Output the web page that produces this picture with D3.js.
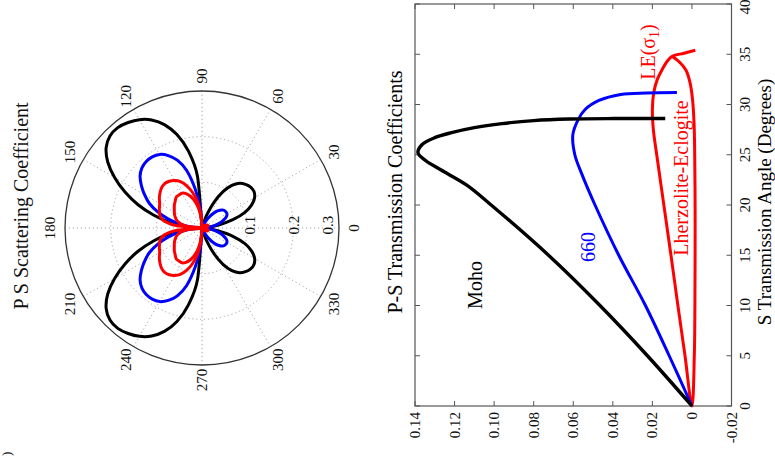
<!DOCTYPE html>
<html>
<head>
<meta charset="utf-8">
<script src="https://cdn.jsdelivr.net/npm/d3@7"></script>
<style>
  html, body { margin: 0; padding: 0; background: #fff; }
  svg { display: block; font-family: "Liberation Serif", "Times New Roman", serif; }
</style>
</head>
<body>
<svg id="chart" width="775" height="457"></svg>
<script>
// ---------------- DATA ----------------
// Polar panel: P S scattering coefficient vs scattering angle (degrees)
const polarAngles = [0,5,10,15,20,25,30,35,40,45,50,55,60,65,70,75,80,85,90,95,100,105,110,115,120,125,130,135,140,145,150,155,160,165,170,175,
                     180,185,190,195,200,205,210,215,220,225,230,235,240,245,250,255,260,265,270,275,280,285,290,295,300,305,310,315,320,325,330,335,340,345,350,355];
const polarBlack = [0,0.010,0.035,0.070,0.100,0.120,0.133,0.139,0.139,0.135,0.128,0.114,0.092,0.062,0.030,0.008,0,0,0,0.114,0.171,0.212,0.241,0.261,0.274,0.282,0.287,0.285,0.274,0.252,0.221,0.186,0.149,0.110,0.072,0.035,
                    0,0.035,0.072,0.110,0.149,0.186,0.221,0.252,0.274,0.285,0.287,0.282,0.274,0.261,0.241,0.212,0.171,0.114,0,0,0,0.008,0.030,0.062,0.092,0.114,0.128,0.135,0.139,0.139,0.133,0.120,0.100,0.070,0.035,0.010];
const polarBlue = [0,0.013,0.026,0.039,0.050,0.059,0.063,0.063,0.061,0.055,0.046,0.033,0.020,0.007,0,0,0,0,0,0.044,0.088,0.131,0.158,0.175,0.186,0.190,0.190,0.186,0.177,0.162,0.145,0.127,0.103,0.077,0.050,0.024,
                   0,0.024,0.050,0.077,0.103,0.127,0.145,0.162,0.177,0.186,0.190,0.190,0.186,0.175,0.158,0.131,0.088,0.044,0,0,0,0,0,0.007,0.020,0.033,0.046,0.055,0.061,0.063,0.063,0.059,0.050,0.039,0.026,0.013];
const polarRedOuter = [0,0.006,0.010,0.013,0.014,0.014,0.013,0.011,0.008,0.005,0.002,0,0,0,0,0,0,0,0,0.031,0.059,0.081,0.099,0.112,0.120,0.125,0.127,0.125,0.120,0.114,0.107,0.103,0.099,0.094,0.083,0.055,
                       0,0.055,0.083,0.094,0.099,0.103,0.107,0.114,0.120,0.125,0.127,0.125,0.120,0.112,0.099,0.081,0.059,0.031,0,0,0,0,0,0,0,0,0.002,0.005,0.008,0.011,0.013,0.014,0.014,0.013,0.010,0.006];
const polarRedInner = [0,0,0,0,0,0,0,0,0,0,0,0,0,0,0,0,0,0,0,0.022,0.044,0.061,0.074,0.083,0.088,0.088,0.088,0.083,0.079,0.074,0.070,0.066,0.061,0.055,0.044,0.026,
                       0,0.026,0.044,0.055,0.061,0.066,0.070,0.074,0.079,0.083,0.088,0.088,0.088,0.083,0.074,0.061,0.044,0.022,0,0,0,0,0,0,0,0,0,0,0,0,0,0,0,0,0,0];
const polarAngleTicks = [0,30,60,90,120,150,180,210,240,270,300,330];
const polarRadialTicks = [0.1,0.2,0.3];
const polarRadialLabels = ["0.1","0.2","0.3"];

// Right panel: P-S transmission coefficient vs S transmission angle (degrees)
const mohoAngle = [0,5,10,15,20,22,23.5,24.4,25.2,26.0,26.7,27.2,27.7,28.1,28.4,28.55,28.6,28.6];
const mohoCoef  = [0,0.0225,0.0465,0.0725,0.1015,0.114,0.127,0.1345,0.1385,0.1365,0.130,0.1215,0.110,0.096,0.080,0.062,0.040,0.0135];
const d660Angle = [0,5,10,15,20,23,25,27,28.5,29.5,30.4,31.0,31.15,31.2];
const d660Coef  = [0,0.0115,0.0235,0.037,0.049,0.0555,0.0592,0.0602,0.0575,0.054,0.047,0.036,0.023,0.0076];
const leAngle = [35.4,35.1,34.8,34.3,33.5,32.5,31.2,29.5,27.5,25,20,15,10,5,0,5,10,15,20,25,28,30.5,32.2,33.4,34.2,34.8];
const leCoef  = [-0.0017,0.004,0.010,0.0125,0.015,0.0175,0.0193,0.0200,0.0195,0.0178,0.0142,0.0106,0.0071,0.0035,0,-0.0012,-0.0015,-0.0016,-0.0016,-0.0014,-0.0011,-0.0003,0.001,0.003,0.0062,0.010];
const angleTicks = [0,5,10,15,20,25,30,35,40];
const coefTicks = [-0.02,0,0.02,0.04,0.06,0.08,0.10,0.12,0.14];
const coefTickLabels = ["-0.02","0","0.02","0.04","0.06","0.08","0.10","0.12","0.14"];

// ---------------- DRAW ----------------
const svg = d3.select("#chart");

function rotText(g, x, y, txt, opts) {
  const t = g.append("text")
    .attr("transform", `translate(${x},${y}) rotate(-90)`)
    .attr("font-size", opts.size || 15)
    .attr("fill", opts.fill || "#111")
    .attr("text-anchor", opts.anchor || "middle");
  if (opts.central) t.attr("dominant-baseline", "central");
  t.text(txt);
  return t;
}

// ---- Polar panel ----
const cx = 202, cy = 228, R = 137;
const rS = d3.scaleLinear().domain([0, 0.3]).range([0, R]);
const gp = svg.append("g");
const toRad = d => d * Math.PI / 180;

polarAngleTicks.forEach(a => {
  gp.append("line")
    .attr("x1", cx).attr("y1", cy)
    .attr("x2", cx + R * Math.cos(toRad(a)))
    .attr("y2", cy - R * Math.sin(toRad(a)))
    .attr("stroke", "#a6a6b8").attr("stroke-width", 1)
    .attr("stroke-dasharray", "1.2,2.8");
});
polarRadialTicks.slice(0, 2).forEach(v => {
  gp.append("circle").attr("cx", cx).attr("cy", cy).attr("r", rS(v))
    .attr("fill", "none").attr("stroke", "#a6a6b8").attr("stroke-width", 1)
    .attr("stroke-dasharray", "1.2,2.8");
});
gp.append("circle").attr("cx", cx).attr("cy", cy).attr("r", rS(0.3))
  .attr("fill", "none").attr("stroke", "#333").attr("stroke-width", 1.3);

const polarLine = d3.line()
  .x((d, i) => cx + rS(d) * Math.cos(toRad(polarAngles[i])))
  .y((d, i) => cy - rS(d) * Math.sin(toRad(polarAngles[i])))
  .curve(d3.curveCardinalClosed.tension(0.1));
[[polarBlack, "#000"], [polarBlue, "#0000ff"], [polarRedOuter, "#ff0000"], [polarRedInner, "#ff0000"]]
  .forEach(([arr, col]) => {
    gp.append("path").attr("d", polarLine(arr))
      .attr("fill", "none").attr("stroke", col).attr("stroke-width", 3)
      .attr("stroke-linejoin", "round");
  });

polarAngleTicks.forEach(a => {
  const rl = 152;
  rotText(gp, cx + rl * Math.cos(toRad(a)), cy - rl * Math.sin(toRad(a)), String(a), {size: 15, central: true});
});
const radialLabelPos = [250, 294, 328];
polarRadialTicks.forEach((v, i) => {
  rotText(gp, radialLabelPos[i], cy - 3, polarRadialLabels[i], {size: 15, central: true});
});
rotText(gp, 28, 206, "P S Scattering Coefficient", {size: 20});
rotText(gp, 11, 456, ")", {size: 13, anchor: "start"});

// ---- Right panel ----
const xC = d3.scaleLinear().domain([-0.02, 0.14]).range([731.5, 415]);
const yA = d3.scaleLinear().domain([0, 40]).range([406, 4]);
const gr = svg.append("g");

gr.append("rect").attr("x", xC(0.14)).attr("y", yA(40))
  .attr("width", xC(-0.02) - xC(0.14)).attr("height", yA(0) - yA(40))
  .attr("fill", "none").attr("stroke", "#555").attr("stroke-width", 1.2);

coefTicks.forEach((v, i) => {
  const x = xC(v);
  gr.append("line").attr("x1", x).attr("x2", x).attr("y1", yA(0)).attr("y2", yA(0) - 5).attr("stroke", "#555");
  gr.append("line").attr("x1", x).attr("x2", x).attr("y1", yA(40)).attr("y2", yA(40) + 5).attr("stroke", "#555");
  rotText(gr, x, yA(0) + 6, coefTickLabels[i], {size: 15, anchor: "end", central: true});
});
angleTicks.forEach(v => {
  const y = yA(v);
  gr.append("line").attr("x1", xC(-0.02)).attr("x2", xC(-0.02) - 5).attr("y1", y).attr("y2", y).attr("stroke", "#555");
  gr.append("line").attr("x1", xC(0.14)).attr("x2", xC(0.14) + 5).attr("y1", y).attr("y2", y).attr("stroke", "#555");
  rotText(gr, 745, Math.max(y, 7), String(v), {size: 15, central: true});
});

const tLine = (angles) => d3.line()
  .x((d) => xC(d))
  .y((d, i) => yA(angles[i]))
  .curve(d3.curveCatmullRom.alpha(0.5));

gr.append("path").attr("d", tLine(leAngle)(leCoef))
  .attr("fill", "none").attr("stroke", "#ff0000").attr("stroke-width", 3).attr("stroke-linejoin", "round");
gr.append("path").attr("d", tLine(d660Angle)(d660Coef))
  .attr("fill", "none").attr("stroke", "#0000ff").attr("stroke-width", 3).attr("stroke-linejoin", "round");
gr.append("path").attr("d", tLine(mohoAngle)(mohoCoef))
  .attr("fill", "none").attr("stroke", "#000").attr("stroke-width", 3.4).attr("stroke-linejoin", "round");

rotText(gr, 482, 285, "Moho", {size: 20, fill: "#000"});
rotText(gr, 595, 247, "660", {size: 20, fill: "#0000ff"});
rotText(gr, 688, 178, "Lherzolite-Eclogite", {size: 20, fill: "#ff0000"});
const le = rotText(gr, 655, 52, "LE(σ", {size: 20, fill: "#ff0000"});
le.append("tspan").attr("font-size", 14).attr("dy", 4).text("1");
le.append("tspan").attr("dy", -4).text(")");

rotText(gr, 402, 192, "P-S Transmission Coefficients", {size: 20, fill: "#000"});
rotText(gr, 771, 202, "S Transmission Angle (Degrees)", {size: 19, fill: "#000"});
</script>
</body>
</html>
